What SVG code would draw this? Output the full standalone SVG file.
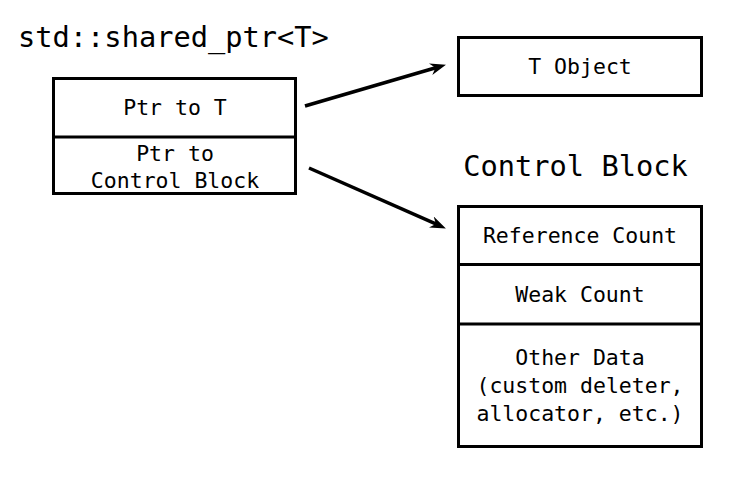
<svg xmlns="http://www.w3.org/2000/svg" width="749" height="480" viewBox="0 0 749 480">
<style>
  .box { fill: #ffffff; stroke: #000000; stroke-width: 3; }
  .div { stroke: #000000; stroke-width: 3; }
  .t { font-family: "DejaVu Sans Mono", "Liberation Mono", monospace; font-size: 21.5px; fill: #000000; text-anchor: middle; }
  .title { font-family: "DejaVu Sans Mono", "Liberation Mono", monospace; font-size: 28.7px; fill: #000000; }
  .conn { stroke: #000000; stroke-width: 3.5; fill: none; }
</style>
<defs>
  <marker id="arrow" markerUnits="userSpaceOnUse" viewBox="0 0 16 12" refX="8" refY="6" markerWidth="16" markerHeight="12" orient="auto">
    <path d="M0,0 L16,6 L0,12 L5,6 Z" fill="#000000"/>
  </marker>
</defs>
<rect width="749" height="480" fill="#ffffff"/>
<text class="title" x="18" y="47">std::shared_ptr&lt;T&gt;</text>
<text class="title" x="575.5" y="176" text-anchor="middle">Control Block</text>
<g id="shared_ptr">
  <rect class="box" x="53.5" y="78.5" width="242" height="115"/>
  <line class="div" x1="53.5" y1="137" x2="295.5" y2="137"/>
  <text class="t" x="175" y="115">Ptr to T</text>
  <text class="t" x="175" y="161">Ptr to</text>
  <text class="t" x="175" y="188">Control Block</text>
</g>
<g id="t_object">
  <rect class="box" x="458.5" y="37.5" width="243" height="58"/>
  <text class="t" x="580" y="74">T Object</text>
</g>
<g id="control_block">
  <rect class="box" x="458.5" y="206.5" width="243" height="240"/>
  <line class="div" x1="458.5" y1="264.5" x2="701.5" y2="264.5"/>
  <line class="div" x1="458.5" y1="324" x2="701.5" y2="324"/>
  <text class="t" x="580" y="243">Reference Count</text>
  <text class="t" x="580" y="302">Weak Count</text>
  <text class="t" x="580" y="365">Other Data</text>
  <text class="t" x="580" y="393">(custom deleter,</text>
  <text class="t" x="580" y="421">allocator, etc.)</text>
</g>
<g id="connectors">
  <line class="conn" x1="305" y1="106" x2="438.3" y2="67" marker-end="url(#arrow)"/>
  <line class="conn" x1="309" y1="168" x2="438.6" y2="225.2" marker-end="url(#arrow)"/>
</g>
</svg>
